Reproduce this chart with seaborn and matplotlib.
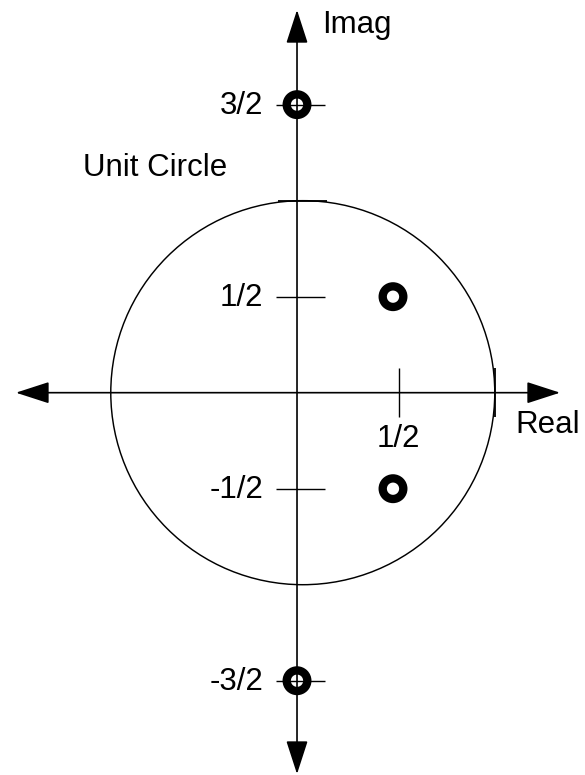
import numpy as np
import seaborn as sns
import matplotlib
matplotlib.use("Agg")
import matplotlib.pyplot as plt
from matplotlib.patches import Circle

# zeros of the system (real, imag)
zero_re = [0.0, 0.5, 0.5, 0.0]
zero_im = [1.5, 0.5, -0.5, -1.5]

# imaginary axis ticks / labels
imag_ticks = [1.5, 0.5, -0.5, -1.5]
imag_labels = ["3/2", "1/2", "-1/2", "-3/2"]

# real axis ticks / labels
real_ticks = [0.5]
real_labels = ["1/2"]

# unit circle (drawn slightly right of the origin, as in the sketch)
circle_center = (0.03, 0.0)
circle_radius = 1.0

sns.set_theme(style="white")
plt.rcParams["font.family"] = ["Liberation Sans", "DejaVu Sans"]
plt.rcParams["text.color"] = "black"
FS = 22.5

fig = plt.figure(figsize=(5.85, 7.75), dpi=100)
ax = fig.add_axes([0, 0, 1, 1])
ax.set_xlim(-1.547, 1.5)
ax.set_ylim(-1.991, 2.045)
ax.axis("off")

# axes with arrow heads
arrow = dict(arrowstyle="<|-|>,head_length=1.05,head_width=0.34",
             mutation_scale=20, lw=1.2, color="black",
             shrinkA=0, shrinkB=0)
ax.annotate("", xy=(1.370, 0), xytext=(-1.464, 0), arrowprops=arrow)
ax.annotate("", xy=(0, 1.993), xytext=(0, -1.986), arrowprops=arrow)

# unit circle
ax.add_patch(Circle(circle_center, circle_radius, fill=False,
                    ec="black", lw=1.05))

# ticks
tl = 0.127
sx = circle_center[0]
ax.hlines(imag_ticks, 0.018 - tl, 0.018 + tl, color="black", lw=1.0)
ax.vlines([t + sx for t in real_ticks], -tl, tl, color="black", lw=1.0)
ax.hlines([circle_radius], sx - tl, sx + tl, color="black", lw=1.3)
ax.vlines([sx + circle_radius], -tl, tl, color="black", lw=1.3)

# tick labels
for t, lab in zip(imag_ticks, imag_labels):
    ax.text(-0.175, t - 0.05, lab, ha="right", va="baseline", fontsize=FS)
for t, lab in zip(real_ticks, real_labels):
    ax.text(t + sx, -0.284, lab, ha="center", va="baseline", fontsize=FS)

# axis names
ax.text(0.13, 1.873, "Imag", ha="left", va="baseline", fontsize=FS)
ax.text(1.135, -0.21, "Real", ha="left", va="baseline", fontsize=FS)
ax.text(-1.115, 1.128, "Unit Circle", ha="left", va="baseline", fontsize=FS)

# zeros
sns.scatterplot(x=zero_re, y=zero_im, ax=ax, marker="o", s=220,
                color="black", facecolors="none", edgecolor="black",
                linewidth=6.0, zorder=5)

fig.savefig("out.png", dpi=100)
